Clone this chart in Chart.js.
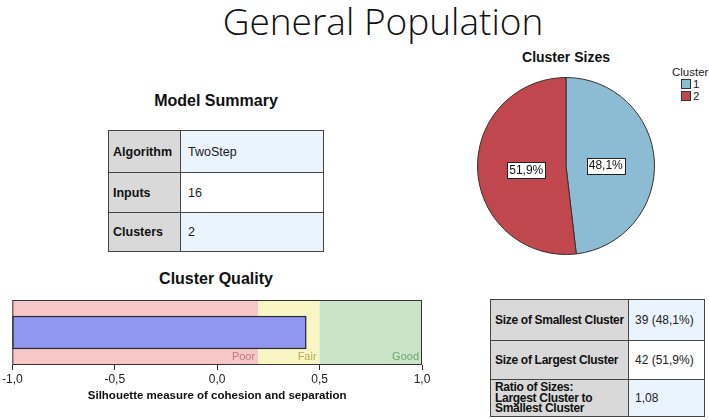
<!DOCTYPE html>
<html>
<head>
<meta charset="utf-8">
<script src="https://cdn.jsdelivr.net/npm/chart.js@4.4.0/dist/chart.umd.min.js"></script>
<style>
    html, body { margin: 0; height: 420px; }
    body { width: 709px; background: #fff; position: relative; overflow: hidden; font-family: "Liberation Sans", Arial, sans-serif; }
    .abs { position: absolute; }
    #main-title { left: 0; width: 766px; top: -1px; text-align: center; font-family: "Open Sans", sans-serif; font-weight: 300; font-size: 37px; line-height: 44px; color: #111; }
    .sub-title { font-weight: bold; font-size: 16px; color: #111; text-align: center; }
    table.spss { border-collapse: collapse; table-layout: fixed; font-size: 12.5px; color: #222; }
    table.spss td { border: 1px solid #444; padding: 0 4px; white-space: nowrap; overflow: hidden; }
    table.spss td.lab { background: #d9d9d9; font-weight: bold; color: #111; }
    table.spss td.val { background: #eaf4fd; }
    table.spss tr.even td.val { background: #fff; }
    #sizes-table td.lab { letter-spacing: -0.3px; line-height: 10.5px; font-size: 12px; }
    #sizes-table td.val { font-size: 12px; padding-left: 6px; }
    #legend { left: 672px; top: 66px; font-size: 11.5px; color: #222; }
    #legend .item { margin-left: 9px; height: 12px; line-height: 12px; }
    #legend .sw { display: inline-block; width: 8px; height: 8px; border: 1px solid #333; vertical-align: -1px; margin-right: 2px; }
</style>
</head>
<body>
<div id="main-title" class="abs">General Population</div>

<div class="abs sub-title" style="left:108px;width:216px;top:92px;">Model Summary</div>
<table id="summary-table" class="abs spss" style="left:108px;top:130px;width:216px;"></table>

<div class="abs sub-title" style="left:0;width:432px;top:270px;">Cluster Quality</div>
<div class="abs" style="left:0;top:290px;width:440px;height:113px;"><canvas id="quality-chart"></canvas></div>

<div class="abs sub-title" style="left:466px;width:200px;top:49px;font-size:14px;">Cluster Sizes</div>
<div class="abs" style="left:476px;top:76px;width:180px;height:180px;"><canvas id="pie-chart"></canvas></div>
<div id="legend" class="abs"></div>

<table id="sizes-table" class="abs spss" style="left:490px;bottom:3px;width:215px;"></table>

<script>
    // Model summary
    const summaryLabels = ['Algorithm', 'Inputs', 'Clusters'];
    const summaryValues = ['TwoStep', '16', '2'];

    // Cluster quality
    const silhouetteValue = 0.435;
    const bandEdges = [-1, 0.2, 0.5, 1];
    const bandNames = ['Poor', 'Fair', 'Good'];
    const xTickValues = [-1, -0.5, 0, 0.5, 1];

    // Cluster sizes
    const clusterNames = ['1', '2'];
    const clusterPercents = [48.1, 51.9];
    const clusterCounts = [39, 42];

    // Size table
    const sizeLabels = ['Size of Smallest Cluster', 'Size of Largest Cluster', 'Ratio of Sizes:<br>Largest Cluster to<br>Smallest Cluster'];
    const sizeValues = ['39 (48,1%)', '42 (51,9%)', '1,08'];

    const bandColors = ['#f7c6c6', '#faf6c4', '#cbe3c8'];
    const bandTextColors = ['#c07a7a', '#b5aa58', '#6aaa64'];
    const clusterColors = ['#8cbbd4', '#c1474f'];
    const FONT = '"Liberation Sans", Arial, sans-serif';

    function comma(v, digits) {
        return v.toFixed(digits).replace('.', ',');
    }

    // Build the two tables
    function fillTable(id, labels, values, labelWidth, rowHeights) {
        var table = document.getElementById(id);
        table.innerHTML = '<colgroup><col style="width:' + labelWidth + 'px"><col></colgroup>';
        var body = document.createElement('tbody');
        for (var i = 0; i < labels.length; i++) {
            var row = document.createElement('tr');
            row.style.height = rowHeights[i] + 'px';
            if (i % 2 == 1) row.className = 'even';
            row.innerHTML = '<td class="lab">' + labels[i] + '</td><td class="val">' + values[i] + '</td>';
            body.appendChild(row);
        }
        table.appendChild(body);
    }
    fillTable('summary-table', summaryLabels, summaryValues, 72, [42, 40, 39]);
    fillTable('sizes-table', sizeLabels, sizeValues, 138, [41, 39, 37]);
    document.querySelectorAll('#summary-table td.val').forEach(function(td) { td.style.paddingLeft = '7px'; });

    // Legend
    var legend = document.getElementById('legend');
    legend.innerHTML = '<div>Cluster</div>';
    clusterNames.forEach(function(name, i) {
        legend.innerHTML += '<div class="item"><span class="sw" style="background:' + clusterColors[i] + '"></span>' + name + '</div>';
    });

    // Plugin: background bands, frame and band names
    const bandPlugin = {
        id: 'bands',
        beforeDatasetsDraw(chart) {
            const ctx = chart.ctx, area = chart.chartArea, x = chart.scales.x;
            ctx.save();
            for (let i = 0; i < bandNames.length; i++) {
                const x0 = x.getPixelForValue(bandEdges[i]);
                const x1 = x.getPixelForValue(bandEdges[i + 1]);
                ctx.fillStyle = bandColors[i];
                ctx.fillRect(x0, area.top, x1 - x0, area.bottom - area.top);
                ctx.fillStyle = bandTextColors[i];
                ctx.font = '11px ' + FONT;
                ctx.textAlign = 'right';
                ctx.textBaseline = 'bottom';
                ctx.fillText(bandNames[i], x1 - 3, area.bottom - 3);
            }
            ctx.restore();
        },
        afterDatasetsDraw(chart) {
            const ctx = chart.ctx, area = chart.chartArea;
            ctx.save();
            ctx.strokeStyle = '#333';
            ctx.lineWidth = 1;
            ctx.strokeRect(area.left + 0.5, area.top + 0.5, area.right - area.left - 1, area.bottom - area.top - 1);
            ctx.restore();
        }
    };

    new Chart(document.getElementById('quality-chart').getContext('2d'), {
        type: 'bar',
        data: {
            labels: ['Silhouette'],
            datasets: [{
                data: [[bandEdges[0], silhouetteValue]],
                backgroundColor: '#8f97ef',
                borderColor: '#2a2a3a',
                borderWidth: 1.5,
                borderSkipped: false,
                barThickness: 33
            }]
        },
        options: {
            indexAxis: 'y',
            responsive: true,
            maintainAspectRatio: false,
            animation: false,
            layout: { padding: { left: 10, right: 18, top: 10, bottom: 0 } },
            plugins: { legend: { display: false }, tooltip: { enabled: false } },
            scales: {
                x: {
                    type: 'linear',
                    min: -1,
                    max: 1,
                    afterBuildTicks: function(scale) { scale.ticks = xTickValues.map(v => ({ value: v })); },
                    afterFit: function(scale) { scale.height = 38; },
                    grid: { drawOnChartArea: false, tickLength: 5, color: '#333' },
                    border: { display: false },
                    ticks: {
                        color: '#222',
                        font: { family: FONT, size: 12 },
                        padding: 2,
                        maxRotation: 0,
                        callback: v => comma(v, 1)
                    },
                    title: {
                        display: true,
                        text: 'Silhouette measure of cohesion and separation',
                        color: '#111',
                        font: { family: FONT, size: 11.5, weight: 'bold' },
                        padding: { top: 0, bottom: 0 }
                    }
                },
                y: { display: false }
            }
        },
        plugins: [bandPlugin]
    });

    // Plugin: percentage boxes on the pie
    const pieLabelPlugin = {
        id: 'pieLabels',
        afterDatasetsDraw(chart) {
            const ctx = chart.ctx;
            ctx.save();
            ctx.font = '12px ' + FONT;
            ctx.textAlign = 'center';
            ctx.textBaseline = 'middle';
            chart.getDatasetMeta(0).data.forEach(function(arc, i) {
                const mid = (arc.startAngle + arc.endAngle) / 2;
                const r = arc.outerRadius * 0.45;
                const x = arc.x + Math.cos(mid) * r;
                const y = arc.y + Math.sin(mid) * r + 2;
                const text = comma(clusterPercents[i], 1) + '%';
                const w = Math.round(ctx.measureText(text).width + 4);
                const bx = Math.round(x - w / 2) + 0.5, by = Math.round(y - 8) + 0.5;
                ctx.fillStyle = '#fff';
                ctx.fillRect(bx, by, w, 16);
                ctx.strokeStyle = '#222';
                ctx.lineWidth = 1;
                ctx.strokeRect(bx, by, w, 16);
                ctx.fillStyle = '#111';
                ctx.fillText(text, x, y + 0.5);
            });
            ctx.restore();
        }
    };

    new Chart(document.getElementById('pie-chart').getContext('2d'), {
        type: 'pie',
        data: {
            labels: clusterNames,
            datasets: [{
                data: clusterCounts,
                backgroundColor: clusterColors,
                borderColor: '#333',
                borderWidth: 1
            }]
        },
        options: {
            responsive: true,
            maintainAspectRatio: false,
            animation: false,
            layout: { padding: 1 },
            plugins: { legend: { display: false }, tooltip: { enabled: false } }
        },
        plugins: [pieLabelPlugin]
    });
</script>
</body>
</html>
